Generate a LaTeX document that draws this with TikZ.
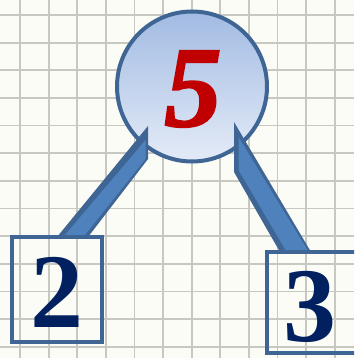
\documentclass[tikz,border=0pt]{standalone}
\usepackage{fontspec}
\setmainfont{Liberation Serif}
\newfontfamily\fivefont[FakeBold=1.6]{Liberation Serif Bold Italic}
\definecolor{bgpaper}{HTML}{FCFCF7}
\definecolor{gridc}{HTML}{C8C8C3}
\definecolor{edgeblue}{HTML}{3E6594}
\definecolor{arrowblue}{HTML}{4F81BD}
\definecolor{circtop}{HTML}{A2BBE3}
\definecolor{circbot}{HTML}{E4EBF7}
\definecolor{numred}{HTML}{C00000}
\definecolor{numnavy}{HTML}{002060}
\tikzset{
  gridline/.style={gridc, line width=1.8pt},
  rootcirc/.style={circle, draw=edgeblue, line width=4pt, minimum size=150pt, inner sep=0pt,
    top color=circtop, bottom color=circbot},
  leafbox/.style={draw=edgeblue, line width=3.5pt, inner sep=0pt},
  arrowdark/.style={fill=edgeblue},
  arrowlight/.style={fill=arrowblue},
  bignum/.style={inner sep=0pt, font=\fontsize{106pt}{106pt}\selectfont\bfseries, text=numnavy},
  rootnum/.style={inner sep=0pt, font=\fontsize{115pt}{115pt}\selectfont\fivefont, text=numred}
}
\begin{document}
\begin{tikzpicture}[x=1pt, y=-1pt]
  \fill[bgpaper] (0,0) rectangle (354,358);
  \useasboundingbox (0,0) rectangle (354,358);
  \begin{scope}
    \clip (0,0) rectangle (354,358);
    \foreach \k in {0,...,13} {
      \draw[gridline] ({-8.6+28.6*\k},0) -- ({-8.6+28.6*\k},358);
    }
    \foreach \k in {0,...,12} {
      \draw[gridline] (0,{15+27.65*\k}) -- (354,{15+27.65*\k});
    }
    % root
    \node[rootcirc] (root) at (192,86.5) {};
    % left connector
    \coordinate (la) at (57,237);
    \coordinate (lb) at (88,237);
    \coordinate (lc) at (148,159);
    \coordinate (ld) at (148,126);
    \fill[arrowdark] (la) -- (lb) -- (lc) -- (ld) -- cycle;
    \fill[arrowlight] (65,235) -- (85,235) -- (145.5,159) -- (145.5,140) -- cycle;
    % right connector
    \coordinate (ra) at (280,252);
    \coordinate (rb) at (311,252);
    \coordinate (rc) at (234,172);
    \coordinate (rd) at (234,122);
    \fill[arrowdark] (rd) -- (rc) -- (ra) -- (rb) -- cycle;
    \fill[arrowlight] (238.5,137) -- (238.5,170) -- (285.5,250) -- (307.5,250) -- cycle;
    % leaves
    \draw[leafbox] (12,237) rectangle (102,342);
    \node[inner sep=0pt, minimum width=90pt, minimum height=105pt] (leftbox) at (57,289.5) {};
    \draw[leafbox] (267,252) rectangle (358,353);
  \end{scope}
  \node[inner sep=0pt, minimum width=87pt, minimum height=101pt] (rightbox) at (310.5,302.5) {};
  \node[rootnum] (rootlbl) at (193,89) {5};
  \node[bignum] (leftlbl) at (57,292) {2};
  \node[bignum] (rightlbl) at (310,307) {3};
\end{tikzpicture}
\end{document}
